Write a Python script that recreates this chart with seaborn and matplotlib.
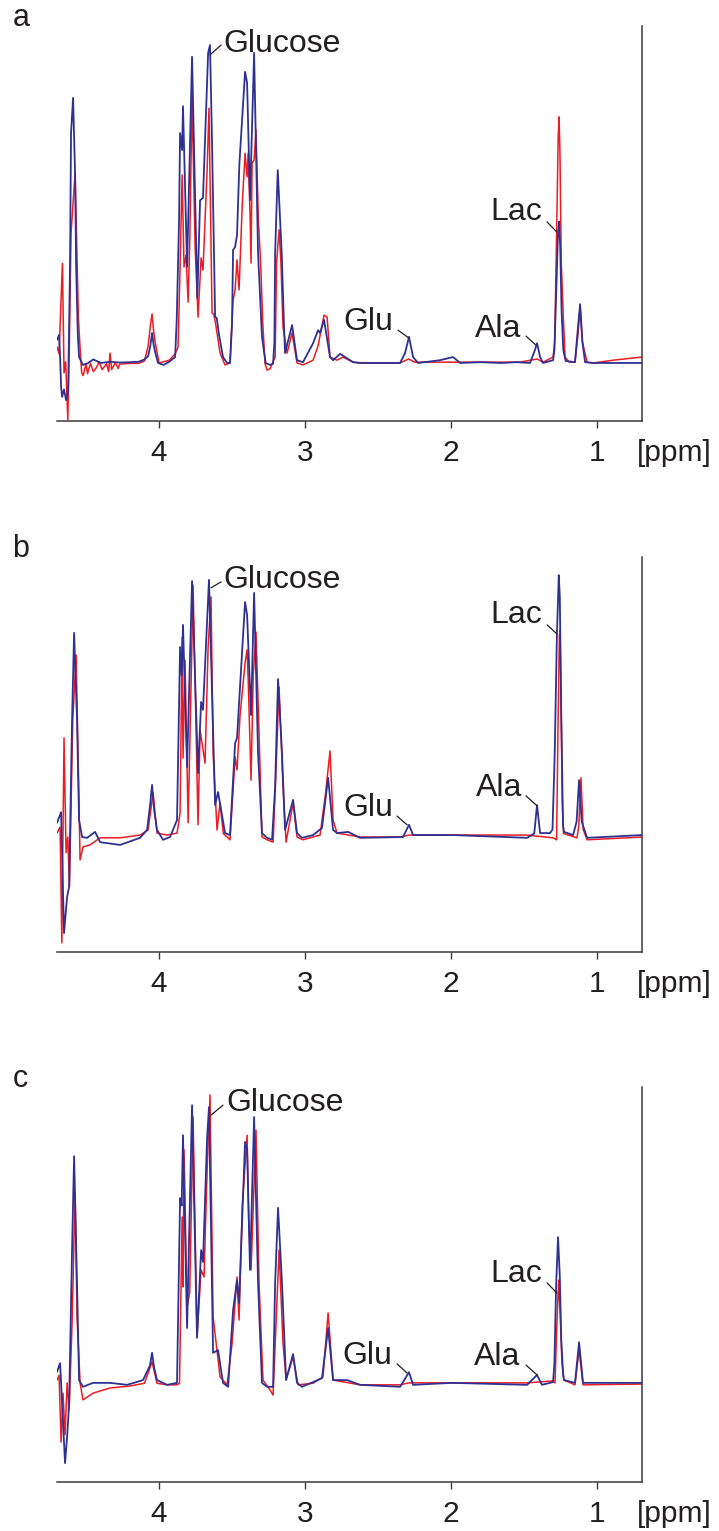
import matplotlib
matplotlib.use("Agg")
import matplotlib.pyplot as plt
import seaborn as sns
import pandas as pd

sns.set_style("white")
plt.rcParams["font.family"] = ["Liberation Sans", "DejaVu Sans"]

# ---------------- data: (ppm, intensity in % of panel height) ----------------
A_BLUE = [(4.699, 20.5), (4.685, 21.8), (4.678, 16.2), (4.671, 8.6), (4.664, 6.1), (4.651, 8.0),
          (4.637, 5.3), (4.623, 7.5), (4.610, 39.0), (4.603, 72.9), (4.589, 81.8), (4.575, 62.0),
          (4.568, 39.0), (4.557, 22.3), (4.548, 16.2), (4.521, 14.2), (4.49, 14.6), (4.45, 15.6),
          (4.40, 14.7), (4.33, 15.0), (4.27, 14.8), (4.20, 14.9), (4.14, 15.0), (4.10, 15.6),
          (4.075, 16.4), (4.060, 19.0), (4.048, 22.3), (4.038, 19.5), (4.027, 17.5), (4.007, 14.7),
          (3.97, 14.2), (3.93, 15.0),
          (3.89, 16.2), (3.879, 25.6), (3.863, 50.9), (3.856, 72.9), (3.842, 68.6), (3.836, 79.7),
          (3.808, 39.0), (3.774, 92.2), (3.738, 31.1), (3.719, 55.9), (3.699, 56.5), (3.664, 93.2),
          (3.651, 95.2), (3.637, 70.0), (3.616, 26.3), (3.605, 26.1), (3.590, 22.0), (3.562, 16.2),
          (3.534, 14.7), (3.514, 14.7), (3.500, 25.0), (3.493, 43.3), (3.479, 44.1), (3.466, 47.1),
          (3.450, 65.0), (3.411, 88.4), (3.397, 85.6), (3.377, 55.9), (3.349, 93.2), (3.322, 42.5),
          (3.295, 21.3), (3.270, 14.7), (3.240, 14.2), (3.219, 14.5), (3.210, 20.0), (3.205, 42.5),
          (3.187, 63.5), (3.160, 42.5), (3.144, 23.8), (3.137, 17.2), (3.089, 24.3), (3.055, 15.4),
          (3.014, 14.9), (2.945, 19.7), (2.911, 23.0), (2.897, 22.3), (2.870, 25.6), (2.829, 16.2),
          (2.808, 15.4), (2.760, 17.0), (2.671, 14.9), (2.623, 14.7), (2.349, 14.7), (2.315, 17.2),
          (2.288, 21.3), (2.260, 16.2), (2.226, 14.7), (2.075, 15.4), (1.986, 16.2), (1.938, 14.7),
          (1.80, 14.9), (1.66, 14.7), (1.55, 14.9), (1.459, 14.7), (1.425, 18.0), (1.411, 19.7),
          (1.390, 16.2), (1.370, 14.7), (1.301, 15.4), (1.292, 18.0), (1.280, 32.0), (1.268, 47.0),
          (1.260, 50.5), (1.252, 44.0), (1.243, 28.0), (1.231, 18.0), (1.215, 15.2), (1.151, 14.9),
          (1.130, 24.0), (1.116, 29.6),
          (1.100, 20.0), (1.082, 14.9), (1.027, 14.7), (0.90, 14.7), (0.692, 14.7)]

A_RED = [(4.699, 18.8), (4.685, 17.0), (4.662, 39.9), (4.651, 12.2), (4.640, 15.0), (4.625, 0.3),
         (4.616, 16.2), (4.603, 47.6), (4.575, 62.8), (4.564, 45.0), (4.553, 26.3), (4.541, 18.5),
         (4.530, 12.2), (4.52, 11.5), (4.50, 14.5), (4.49, 12.0), (4.47, 14.6), (4.45, 12.5),
         (4.43, 13.5), (4.41, 15.0), (4.39, 13.0), (4.36, 14.5), (4.345, 12.5), (4.336, 17.2),
         (4.325, 13.0), (4.30, 14.8), (4.28, 13.3), (4.27, 14.4), (4.20, 14.6), (4.14, 14.6),
         (4.10, 15.2), (4.075, 19.0), (4.060, 24.0), (4.048, 27.1), (4.038, 23.0), (4.027, 20.0),
         (4.000, 14.7), (3.97, 15.0), (3.93, 15.4),
         (3.89, 17.0), (3.870, 18.7), (3.856, 39.0), (3.842, 62.3), (3.829, 39.0), (3.815, 42.0),
         (3.801, 30.1), (3.790, 45.0), (3.774, 81.8), (3.753, 44.1), (3.733, 26.3), (3.712, 41.3),
         (3.699, 38.2), (3.671, 63.5), (3.658, 79.2), (3.637, 27.3), (3.625, 27.0), (3.610, 24.0),
         (3.582, 17.2), (3.548, 14.2), (3.514, 14.7), (3.493, 30.6), (3.479, 33.2), (3.466, 40.8),
         (3.452, 33.2), (3.430, 55.0), (3.411, 67.8), (3.397, 61.8), (3.390, 67.8), (3.377, 52.7),
         (3.370, 40.0), (3.363, 65.3), (3.349, 66.1), (3.336, 73.7), (3.320, 51.0), (3.304, 40.0),
         (3.290, 25.0), (3.274, 14.5), (3.260, 12.9), (3.240, 13.2), (3.205, 16.2), (3.195, 40.0),
         (3.178, 48.4), (3.165, 40.0), (3.151, 23.8), (3.123, 17.2), (3.089, 22.3), (3.055, 14.7),
         (3.014, 14.2), (2.945, 15.4), (2.911, 19.0), (2.870, 26.8), (2.849, 26.3), (2.829, 16.2),
         (2.781, 15.4), (2.740, 16.2), (2.671, 14.9), (2.620, 14.7), (2.350, 14.7), (2.290, 15.7),
         (2.250, 14.9), (1.940, 14.9), (1.530, 14.9), (1.410, 15.7), (1.370, 14.9), (1.301, 16.2),
         (1.290, 20.0), (1.278, 45.0), (1.266, 72.0), (1.260, 77.0), (1.254, 68.0), (1.245, 40.0),
         (1.231, 26.4), (1.219, 16.2),
         (1.190, 14.9), (1.151, 14.9), (1.130, 22.0), (1.116, 28.9), (1.100, 20.0), (1.068, 14.9),
         (1.027, 14.7), (0.890, 15.4), (0.692, 16.2)]

B_BLUE = [(4.699, 32.7), (4.671, 35.4), (4.651, 4.8), (4.630, 13.9), (4.616, 16.5), (4.596, 58.7),
          (4.582, 80.8), (4.562, 58.7), (4.548, 33.4), (4.527, 29.1), (4.493, 28.9), (4.438, 30.4),
          (4.404, 27.8), (4.267, 27.1), (4.130, 28.9), (4.082, 30.9), (4.062, 37.0), (4.048, 42.3),
          (4.034, 36.0), (4.014, 30.9),
          (3.973, 28.4), (3.925, 29.1), (3.877, 33.4), (3.856, 77.2), (3.845, 70.0), (3.836, 82.8),
          (3.808, 46.8), (3.774, 93.9), (3.733, 45.3), (3.712, 63.3), (3.699, 61.3), (3.658, 94.2),
          (3.616, 37.2), (3.596, 40.5), (3.548, 30.1), (3.514, 29.6), (3.479, 52.9), (3.466, 54.2),
          (3.411, 88.6), (3.397, 85.3), (3.370, 60.0), (3.349, 90.9), (3.322, 50.4), (3.295, 30.1),
          (3.260, 28.9), (3.226, 28.4), (3.205, 41.8), (3.185, 69.1), (3.158, 50.4), (3.137, 30.9),
          (3.082, 38.5), (3.055, 30.1), (3.021, 28.9), (2.945, 29.6), (2.884, 31.4), (2.842, 44.1),
          (2.808, 30.9), (2.781, 30.1), (2.705, 30.4), (2.623, 28.9), (2.329, 29.1), (2.288, 32.2),
          (2.260, 29.6), (1.986, 29.6), (1.479, 28.9), (1.430, 30.0), (1.411, 37.2), (1.390, 30.1),
          (1.322, 30.1), (1.305, 31.0), (1.290, 50.0), (1.275, 80.0), (1.262, 95.4), (1.255, 90.0),
          (1.245, 60.0), (1.233, 32.0), (1.226, 30.4), (1.164, 29.6),
          (1.140, 33.0), (1.123, 43.5), (1.105, 33.0), (1.068, 28.9), (0.692, 29.6)]

B_RED = [(4.699, 30.1), (4.678, 31.6), (4.666, 2.3), (4.651, 54.2), (4.637, 25.1), (4.625, 29.1),
         (4.614, 16.5), (4.591, 58.7), (4.568, 75.2), (4.555, 50.4), (4.541, 23.3), (4.521, 26.6),
         (4.473, 27.1), (4.404, 28.9), (4.267, 28.9), (4.130, 29.6), (4.075, 30.9), (4.041, 40.3),
         (4.014, 30.1), (3.945, 29.6), (3.877, 30.1), (3.856, 35.2), (3.842, 79.7), (3.836, 49.1),
         (3.822, 73.9), (3.801, 32.7), (3.785, 60.0), (3.767, 92.9), (3.733, 32.2), (3.719, 56.2),
         (3.685, 47.8), (3.664, 77.2), (3.644, 89.9), (3.630, 50.4), (3.603, 30.9), (3.582, 37.7),
         (3.560, 30.0), (3.514, 28.4), (3.479, 49.4), (3.466, 46.1), (3.445, 60.0), (3.411, 73.2),
         (3.397, 76.5), (3.390, 69.6), (3.370, 43.5), (3.355, 70.0), (3.336, 81.0), (3.315, 55.0),
         (3.295, 29.1), (3.260, 28.4), (3.219, 27.8), (3.200, 45.0), (3.178, 67.1), (3.151, 41.8),
         (3.130, 27.8), (3.082, 37.7), (3.055, 29.1), (3.014, 28.4), (2.897, 29.6), (2.860, 40.0),
         (2.829, 50.9), (2.808, 33.4), (2.781, 30.1), (2.623, 29.1), (2.349, 29.1), (2.288, 29.6),
         (1.993, 29.6), (1.480, 29.6), (1.301, 28.9), (1.277, 28.4), (1.268, 55.0), (1.258, 80.0),
         (1.253, 81.5), (1.246, 62.0), (1.238, 38.0), (1.230, 30.0), (1.137, 28.9), (1.125, 32.0),
         (1.110, 44.1), (1.095, 31.0), (1.068, 28.4), (0.692, 29.1)]

C_BLUE = [(4.699, 27.9), (4.678, 30.1), (4.662, 18.2), (4.644, 4.8), (4.630, 11.4), (4.616, 20.0),
          (4.596, 58.7), (4.582, 82.5), (4.562, 50.4), (4.548, 25.8), (4.521, 24.1), (4.452, 25.1),
          (4.336, 25.1), (4.219, 24.6), (4.110, 25.8), (4.062, 29.5), (4.048, 32.7), (4.034, 29.0),
          (4.014, 25.8), (3.945, 24.6),
          (3.877, 25.1), (3.856, 71.9), (3.845, 70.0), (3.836, 87.8), (3.808, 39.0), (3.774, 95.4),
          (3.740, 36.5), (3.712, 58.7), (3.699, 55.7), (3.671, 87.1), (3.658, 94.9), (3.630, 32.7),
          (3.596, 33.4), (3.562, 25.1), (3.527, 24.1), (3.493, 43.5), (3.466, 51.1), (3.452, 45.3),
          (3.411, 86.1), (3.397, 84.1), (3.377, 53.7), (3.349, 92.4), (3.322, 50.4), (3.295, 25.1),
          (3.260, 24.1), (3.219, 24.1), (3.205, 50.4), (3.185, 69.4), (3.158, 50.4), (3.130, 25.8),
          (3.082, 32.4), (3.055, 25.1), (3.021, 24.1), (2.945, 25.3), (2.884, 26.3), (2.842, 39.0),
          (2.808, 25.8), (2.712, 25.8), (2.623, 24.6), (2.349, 24.1), (2.288, 27.8), (2.260, 24.6),
          (1.993, 25.1), (1.479, 24.6), (1.411, 27.1), (1.377, 24.6), (1.301, 25.3), (1.292, 30.0),
          (1.280, 50.0), (1.267, 62.0), (1.255, 52.0), (1.245, 36.0), (1.232, 27.0), (1.226, 25.8),
          (1.151, 25.1), (1.123, 35.4), (1.096, 25.1),
          (0.692, 25.1)]

C_RED = [(4.699, 25.8), (4.685, 27.0), (4.671, 10.1), (4.658, 22.5), (4.644, 12.0), (4.630, 25.1),
         (4.616, 18.2), (4.596, 40.0), (4.575, 73.2), (4.562, 41.8), (4.541, 25.1), (4.521, 20.8),
         (4.452, 22.5), (4.336, 23.8), (4.200, 24.3), (4.100, 25.0), (4.048, 30.4), (4.014, 25.0),
         (3.945, 24.6), (3.877, 24.6), (3.860, 25.0), (3.842, 67.1), (3.836, 49.4), (3.829, 84.1),
         (3.808, 44.3), (3.790, 48.0), (3.767, 92.4), (3.740, 36.7), (3.712, 53.7), (3.692, 51.9),
         (3.670, 80.0), (3.651, 98.0), (3.630, 41.8), (3.582, 26.6), (3.534, 24.6), (3.500, 35.0),
         (3.466, 51.9), (3.452, 41.0), (3.430, 70.0), (3.397, 87.8), (3.385, 65.0), (3.370, 53.7),
         (3.336, 89.1), (3.315, 50.0), (3.288, 25.8), (3.240, 23.3), (3.219, 22.0), (3.210, 30.0),
         (3.178, 58.7), (3.151, 35.2), (3.130, 26.0), (3.082, 31.6), (3.048, 24.6), (2.945, 25.0),
         (2.877, 26.6), (2.842, 42.8), (2.808, 25.8), (2.623, 24.6), (2.349, 24.6), (2.288, 25.1),
         (1.993, 25.1), (1.479, 25.1), (1.301, 25.6), (1.288, 25.1), (1.275, 40.0), (1.263, 51.1),
         (1.252, 42.0), (1.240, 30.0), (1.226, 25.8), (1.151, 24.6), (1.123, 33.4), (1.096, 24.6),
         (0.692, 24.8)]

PANEL_LETTERS = ["a", "b", "c"]
TICKS = [4, 3, 2, 1]
TICK_LABELS = ["4", "3", "2", "1"]

# annotations: label, text (ppm, I), ha, leader start (ppm, I), leader end (ppm, I)
ANNOT = [
    [("Glucose", 3.562, 93.4, "left", (3.575, 95.2), (3.651, 92.7)),
     ("Lac", 1.377, 50.9, "right", (1.342, 50.4), (1.274, 47.8)),
     ("Ala", 1.521, 21.3, "right", (1.486, 21.5), (1.418, 19.2)),
     ("Glu", 2.397, 23.0, "right", (2.363, 23.0), (2.288, 21.0))],
    [("Glucose", 3.562, 92.2, "left", (3.575, 93.7), (3.644, 92.2)),
     ("Lac", 1.377, 83.3, "right", (1.342, 82.8), (1.274, 80.5)),
     ("Ala", 1.514, 39.5, "right", (1.486, 39.5), (1.411, 37.0)),
     ("Glu", 2.397, 34.4, "right", (2.370, 34.4), (2.301, 32.2))],
    [("Glucose", 3.541, 94.0, "left", (3.562, 95.4), (3.644, 92.9)),
     ("Lac", 1.377, 50.7, "right", (1.342, 50.4), (1.274, 47.8)),
     ("Ala", 1.527, 29.6, "right", (1.486, 29.6), (1.411, 27.1)),
     ("Glu", 2.404, 30.0, "right", (2.370, 29.9), (2.301, 27.6))],
]

SERIES = [(A_RED, A_BLUE), (B_RED, B_BLUE), (C_RED, C_BLUE)]

RED = "#ED1C24"
BLUE = "#2E3192"
INK = "#231F20"
SPINE = "#3A3A3A"

fig = plt.figure(figsize=(7.19, 15.31), dpi=100)
bottoms = [0.7250, 0.3782, 0.0320]

for k, (red, blue) in enumerate(SERIES):
    ax = fig.add_axes([0.0793, bottoms[k], 0.8136, 0.2580])
    for data, col, lw in ((red, RED, 1.1), (blue, BLUE, 1.3)):
        df = pd.DataFrame(data, columns=["ppm", "I"])
        sns.lineplot(data=df, x="ppm", y="I", color=col, lw=lw, estimator=None,
                     sort=False, ax=ax)
    ax.set_xlim(4.699, 0.692)
    ax.set_ylim(0, 100)
    ax.set_xlabel("")
    ax.set_ylabel("")
    ax.set_xticks(TICKS)
    ax.set_xticklabels(TICK_LABELS)
    ax.set_yticks([])
    for s in ("left", "top"):
        ax.spines[s].set_visible(False)
    for s in ("bottom", "right"):
        ax.spines[s].set_visible(True)
        ax.spines[s].set_color(SPINE)
        ax.spines[s].set_linewidth(1.1)
    ax.tick_params(axis="x", direction="out", length=5, width=1.0, color=SPINE,
                   labelsize=21.5, pad=8, labelcolor=INK, bottom=True)
    ax.text(-0.076, 1.0, PANEL_LETTERS[k], transform=ax.transAxes, fontsize=22,
            ha="left", va="baseline", color=INK)
    ax.annotate("[ppm]", xy=(1, 0), xycoords="axes fraction", xytext=(-3.6, -28.8),
                textcoords="offset points", ha="left", va="baseline", fontsize=21.5,
                color=INK)
    for label, tp, ti, ha, (sp, si), (ep, ei) in ANNOT[k]:
        ax.text(tp, ti, label, ha=ha, va="baseline", fontsize=23, color=INK)
        ax.annotate("", xy=(ep, ei), xytext=(sp, si),
                    arrowprops=dict(arrowstyle="-", color=INK, lw=0.9,
                                    shrinkA=0, shrinkB=0))

fig.savefig("out.png", dpi=100)
